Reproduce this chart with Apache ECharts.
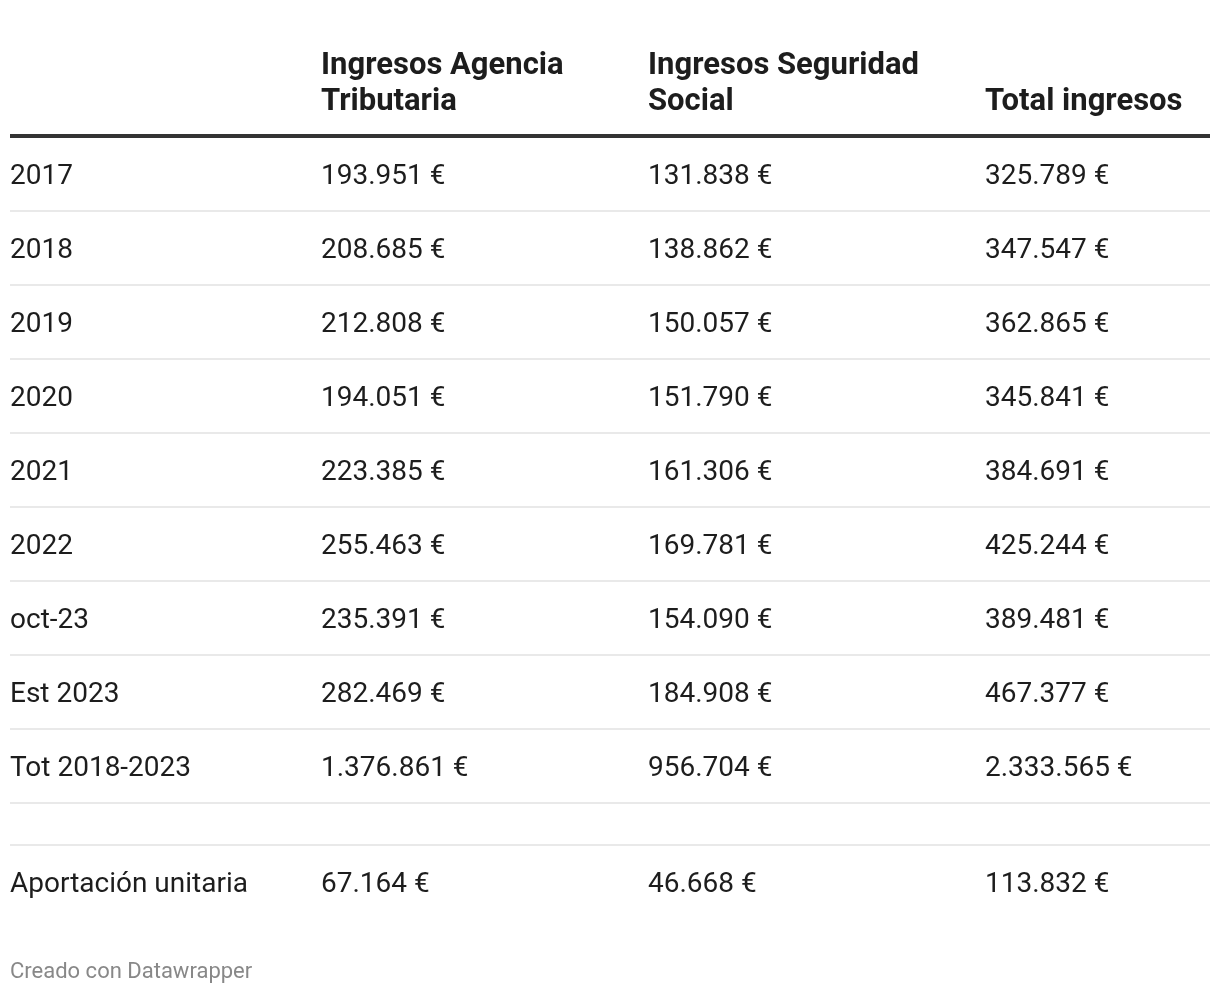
<!DOCTYPE html>
<html><head><meta charset="utf-8">
<script src="https://cdn.jsdelivr.net/npm/echarts@6/dist/echarts.min.js"></script>
<style>html,body{margin:0;padding:0;background:#fff}#c{width:1220px;height:994px}</style>
</head><body><div id="c"></div>
<script>
// ---- data ----
const headers = ["", "Ingresos Agencia Tributaria", "Ingresos Seguridad Social", "Total ingresos"];
const rowLabels = ["2017","2018","2019","2020","2021","2022","oct-23","Est 2023","Tot 2018-2023","","Aportación unitaria"];
const agenciaTributaria = [193951,208685,212808,194051,223385,255463,235391,282469,1376861,null,67164];
const seguridadSocial = [131838,138862,150057,151790,161306,169781,154090,184908,956704,null,46668];
const totalIngresos = [325789,347547,362865,345841,384691,425244,389481,467377,2333565,null,113832];
const footerText = "Creado con Datawrapper";

// ---- layout ----
const colX = [10, 321, 648, 985];
const colW = [300, 307, 317, 225];
const tableLeft = 10, tableRight = 1210;
const headerBottom = 120;
const headerLineY = 136;
const bodyTop = 137;
const textShift = 3;
const rowHeights = [74,74,74,74,74,74,74,74,74,42,74];

function fmt(v){
  if (v == null) return '';
  return String(v).replace(/\B(?=(\d{3})+(?!\d))/g, '.') + ' \u20AC';
}

const rowCenters = [], rowBottoms = [];
let acc = bodyTop;
rowHeights.forEach(h => { rowCenters.push(acc + h/2); acc += h; rowBottoms.push(acc); });

const cellData = [], cellText = [];
const columnsData = [rowLabels.map(s => s), agenciaTributaria.map(fmt), seguridadSocial.map(fmt), totalIngresos.map(fmt)];
rowLabels.forEach((_, r) => {
  columnsData.forEach((col, c) => {
    cellData.push([colX[c], rowCenters[r] + textShift]);
    cellText.push(col[r]);
  });
});

const headerData = headers.map((h, c) => [colX[c], headerBottom]);

// separators: header rule + under each body row except the last
const lineData = [[headerLineY, 4, 0]].concat(rowBottoms.slice(0, -1).map(y => [y, 2, 1]));

const font = 'Roboto, "Noto Sans", sans-serif';

const chart = echarts.init(document.getElementById('c'), null, {renderer: 'canvas'});
chart.setOption({
  animation: false,
  backgroundColor: '#fff',
  title: {
    text: footerText, left: 10, top: 961, padding: 0,
    textStyle: {fontSize: 22, fontWeight: 'normal', color: '#888', fontFamily: font}
  },
  grid: {left: 0, right: 0, top: 0, bottom: 0},
  xAxis: {type: 'value', min: 0, max: 1220, show: false},
  yAxis: {type: 'value', min: 0, max: 994, inverse: true, show: false},
  series: [
    {
      type: 'custom', clip: false, silent: true,
      data: lineData,
      renderItem: (params, api) => {
        const y = api.value(0), w = api.value(1), thin = api.value(2);
        const a = api.coord([tableLeft, y]), b = api.coord([tableRight, y]);
        return {type: 'line', shape: {x1: a[0], y1: a[1], x2: b[0], y2: b[1]},
          style: {stroke: thin ? '#e9e9e9' : '#333', lineWidth: w}};
      }
    },
    {
      type: 'custom', clip: false, silent: true,
      data: headerData,
      renderItem: (params, api) => {
        const p = api.coord([api.value(0), api.value(1)]);
        return {type: 'text', x: p[0], y: p[1],
          style: {text: headers[params.dataIndex], fontFamily: font, fontSize: 31, fontWeight: 'bold',
            fill: '#1d1d1d', align: 'left', verticalAlign: 'bottom', lineHeight: 36,
            width: colW[params.dataIndex], overflow: 'break'}};
      }
    },
    {
      type: 'custom', clip: false, silent: true,
      data: cellData,
      renderItem: (params, api) => {
        const p = api.coord([api.value(0), api.value(1)]);
        return {type: 'text', x: p[0], y: p[1],
          style: {text: cellText[params.dataIndex], fontFamily: font, fontSize: 28,
            fill: '#1d1d1d', align: 'left', verticalAlign: 'middle'}};
      }
    }
  ]
});
</script></body></html>
